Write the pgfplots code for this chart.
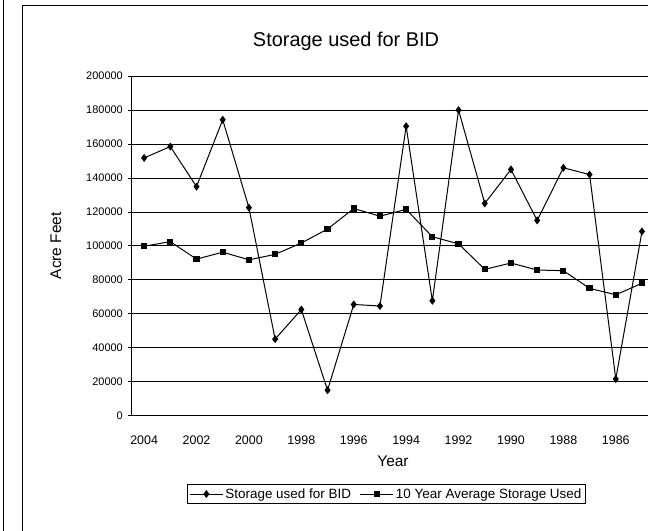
\documentclass[border=0pt]{standalone}
\usepackage{pgfplots}
\pgfplotsset{compat=1.18}
\usepackage{fontspec}
\setmainfont{Liberation Sans}
\begin{document}
\begin{tikzpicture}[x=1bp,y=1bp]
\useasboundingbox (0,0) rectangle (648,531);
\draw[line width=0.8bp] (3,0) -- (3,531);
\draw[line width=0.8bp] (22.5,0) -- (22.5,525.5) -- (648,525.5);
\node[anchor=base,font=\fontsize{20}{24}\selectfont] at (346,484.3) {Storage used for BID};
\node[anchor=base,font=\fontsize{15.5}{18}\selectfont] at (393,64.3) {Year};
\node[rotate=90,font=\fontsize{15.5}{18}\selectfont] at (56,285.3) {Acre Feet};
\begin{axis}[
  at={(131bp,115.3bp)}, anchor=south west,
  scale only axis, width=517bp, height=339.6bp,
  xmin=-0.5, xmax=19.23,
  ymin=0, ymax=200000,
  axis lines=left,
  axis line style={line width=0.9bp, -},
  ytick={0,20000,...,200000},
  ymajorgrids,
  grid style={black, line width=0.8bp},
  xtick={0,2,...,18},
  xticklabels={2004,2002,2000,1998,1996,1994,1992,1990,1988,1986},
  minor xtick={-0.5,0.5,...,18.5},
  xtick style={draw=none},
  minor x tick style={black, line width=0.8bp},
  minor tick length=3bp,
  major tick length=3bp,
  ytick style={black, line width=0.8bp},
  tick align=outside,
  /pgf/number format/assume math mode=true,
  /pgf/number format/fixed,
  /pgf/number format/1000 sep={},
  scaled y ticks=false,
  yticklabel style={font=\fontsize{11}{13}\selectfont, anchor=east, inner sep=0pt, xshift=-5bp},
  xticklabel style={font=\fontsize{12.5}{15}\selectfont, anchor=base, inner sep=0pt, yshift=-25.5bp},
  legend style={at={(0.494,-0.2306)}, anchor=center, draw=black, line width=0.8bp,
    font=\fontsize{13.5}{16}\selectfont, inner sep=2bp, legend columns=2,
    /tikz/every even column/.append style={column sep=7bp}},
  legend image code/.code={\draw[mark repeat=2,mark phase=2,#1] plot coordinates {(0bp,0bp) (16.5bp,0bp) (33bp,0bp)};},
]
\addplot[black, line width=1bp, mark=diamond*, mark size=3.2bp, mark options={fill=black}] coordinates {
(0,151800) (1,158500) (2,134900) (3,174300) (4,122500) (5,45100) (6,62500) (7,15000) (8,65500) (9,64600)
(10,170500) (11,67700) (12,180000) (13,125000) (14,145000) (15,115000) (16,146000) (17,142000) (18,21600) (19,108500)
};
\addlegendentry{Storage used for BID}
\addplot[black, line width=1bp, mark=square*, mark size=2.6bp, mark options={fill=black}] coordinates {
(0,99800) (1,102500) (2,92200) (3,96300) (4,91800) (5,95000) (6,101700) (7,109900) (8,122000) (9,117500)
(10,121500) (11,105400) (12,101200) (13,86200) (14,89900) (15,85800) (16,85400) (17,75000) (18,71200) (19,78000)
};
\addlegendentry{10 Year Average Storage Used}
\end{axis}
\end{tikzpicture}
\end{document}
